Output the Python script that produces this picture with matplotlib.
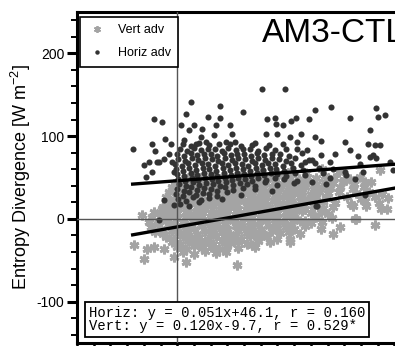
import matplotlib.pyplot as plt
from matplotlib.ticker import MultipleLocator

plt.rcParams['font.family'] = ['Liberation Sans', 'DejaVu Sans']
plt.rcParams['mathtext.fontset'] = 'custom'
plt.rcParams['mathtext.rm'] = 'Liberation Sans'
plt.rcParams['axes.unicode_minus'] = False

# Vertical advection (gray asterisks)
vert_x = [
    150, 175, 205, 232, 260, 290, 300, 349, 364,
    20, 35, 50, 68, 82, 97, 112, 128, 142, 158, 172, 188, 203, 218, 234, 250, 266, 282, 310, 328,
    0, 12, 26, 40, 55, 70, 85, 100, 115, 130, 145, 160, 175, 190, 205, 220, 235, 250, 265, 280, 297, 318, 338,
    -10, 5, 20, 35, 50, 65, 80, 95, 110, 125, 140, 155, 170, 185, 200, 215, 230, 245, 260, 275, 292, 315, 335,
    -15, 0, 15, 30, 45, 60, 75, 90, 105, 120, 135, 150, 165, 180, 195, 210, 225, 240, 255, 270, 290, 322, 345, 368,
    -20, -5, 10, 25, 40, 55, 70, 85, 100, 115, 130, 145, 160, 175, 190, 205, 220, 235, 250, 268, 305, 330, 355, 378,
    -20, -6, 8, 22, 36, 50, 64, 78, 92, 106, 120, 134, 148, 162, 176, 190, 204, 218, 232, 246, 262, 283, 312, 337, 362,
    -25, -10, 5, 20, 35, 50, 65, 80, 95, 110, 125, 140, 155, 170, 185, 200, 215, 230, 245, 262, 280, 315, 340, 367, 376,
    -41, -27, -30, -15, 0, 15, 30, 45, 60, 75, 90, 105, 120, 135, 150, 165, 180, 195, 210, 225, 240, 258, 270,
    -45, -30, -15, 0, 15, 30, 45, 60, 75, 90, 105, 120, 135, 150, 165, 180, 195, 210, 229, 250, 278, 319, 322,
    -50, -35, -20, -5, 10, 25, 40, 55, 70, 85, 100, 115, 130, 145, 160, 175, 190, 205, 220, 240, 260, 355,
    -47, -30, -15, 0, 15, 30, 45, 60, 75, 90, 105, 120, 135, 150, 165, 180, 195, 210, 230, 259, 292,
    -40, -25, -10, 5, 20, 35, 50, 65, 80, 95, 110, 125, 140, 155, 170, 185, 200, 220, 279,
    -20, -5, 10, 25, 40, 55, 70, 85, 100, 115, 130, 145, 162, 180, 202,
    -10, 5, 20, 35, 50, 65, 80, 95, 110, 125, 145, 166, 202,
    -77, -54, -41, -23, 0, 15, 30, 45, 60, 75, 90, 110, 135, 139,
    10, 30, 50, 70, 88,
    -59, -5, 16, 108, -63, -14,
]
vert_y = [
    57, 55, 58, 56, 60, 57, 47, 45, 59,
    49, 52, 50, 48, 51, 49, 52, 50, 48, 51, 49, 52, 50, 48, 51, 49, 52, 50, 48, 51,
    44, 42, 45, 43, 44, 42, 45, 43, 44, 42, 45, 43, 44, 42, 45, 43, 44, 42, 45, 43, 45, 42, 44,
    38, 36, 39, 37, 38, 36, 39, 37, 38, 36, 39, 37, 38, 36, 39, 37, 38, 36, 39, 37, 38, 36, 39,
    32, 30, 33, 31, 32, 30, 33, 31, 32, 30, 33, 31, 32, 30, 33, 31, 32, 30, 33, 31, 33, 31, 33, 30,
    26, 24, 27, 25, 26, 24, 27, 25, 26, 24, 27, 25, 26, 24, 27, 25, 26, 24, 27, 25, 26, 24, 27, 25,
    20, 18, 21, 19, 20, 18, 21, 19, 20, 18, 21, 19, 20, 18, 21, 19, 20, 18, 21, 19, 20, 19, 18, 21, 19,
    14, 12, 15, 13, 14, 12, 15, 13, 14, 12, 15, 13, 14, 12, 15, 13, 14, 12, 15, 13, 14, 15, 15, 12, 12,
    8, 12, 6, 9, 7, 8, 6, 9, 7, 8, 6, 9, 7, 8, 6, 9, 7, 8, 6, 9, 7, 8, 6,
    2, 0, 3, 1, 2, 0, 3, 1, 2, 0, 3, 1, 2, 0, 3, 1, 2, 0, -2, 2, 1, 0, 0,
    -4, -6, -3, -5, -4, -6, -3, -5, -4, -6, -3, -5, -4, -6, -3, -5, -4, -6, -3, -5, -4, -7,
    -10, -12, -9, -11, -10, -12, -9, -11, -10, -12, -9, -11, -10, -12, -9, -11, -10, -12, -9, -12, -10,
    -16, -18, -15, -17, -16, -18, -15, -17, -16, -18, -15, -17, -16, -18, -15, -17, -16, -18, -18,
    -22, -24, -21, -23, -22, -24, -21, -23, -22, -24, -21, -23, -22, -24, -24,
    -28, -30, -27, -29, -28, -30, -27, -29, -28, -30, -27, -28, -28,
    -31, -36, -34, -36, -34, -36, -33, -35, -34, -36, -33, -35, -32, -34,
    -40, -42, -39, -41, -40,
    -48, -46, -52, -56, 5, 15,
]

# Horizontal advection (dark dots)
horiz_x = [
    10, 25, 40, 58, 75, 95, 115, 140, 165, 190,
    5, 18, 30, 42, 55, 68, 80, 92, 105, 118, 130, 145, 160, 175, 195, 215,
    0, 12, 24, 36, 48, 60, 72, 84, 96, 108, 120, 132, 144, 156, 170, 185, 200, 225,
    2, 14, 26, 38, 50, 62, 74, 86, 98, 110, 122, 134, 146, 158, 170, 182, 196, 212, 236,
    -4, 8, 20, 32, 44, 56, 68, 80, 92, 104, 116, 128, 140, 152, 164, 176, 190, 205, 222, 248,
    -2, 10, 22, 34, 46, 58, 70, 82, 94, 106, 118, 130, 142, 154, 166, 178, 192, 208, 226, 255, 280,
    0, 12, 24, 36, 48, 60, 72, 84, 96, 108, 120, 132, 144, 156, 168, 180, 195, 212, 230, 262,
    2, 14, 26, 38, 50, 62, 74, 86, 98, 110, 122, 134, 146, 160, 175, 192, 215, 275,
    4, 16, 28, 40, 52, 64, 76, 88, 100, 112, 126, 140, 158, 180, 210,
    0, 12, 24, 36, 48, 60, 72, 86, 100, 118, 140, 170,
    -3, 10, 22, 34, 46, 58, 72, 90, 115,
    2, 15, 28, 42, 58, 80,
    5, 22, 40,
    -79, -41, -28, 25, 16, 76, 118, 56, 77, 94, -46, -40, -22, -11, -14, -59, -50, -36, -23,
    -9, -5, -45, -56, 7, 22, 31, 45, 70, 99, 43, 67, 13, 34, 52, 88, 103, 135,
    152, 193, 248, 277, 358, 374, 360, 310, 162, 175, 178, 205, 214, 236, 190, 346, 160, 180,
    223, 248, 259, 301, 342, 355, 310, 234, 283, 324, 346, 259, 216, 202, 243, 274, 358, 382,
    229, 301, 333, -32, -23, -32, -5, 250, 252, 243, 268, 319, 337, 328, 364, 387, 304, 351,
]
horiz_y = [
    90, 88, 92, 89, 91, 90, 88, 92, 89, 91,
    84, 82, 86, 83, 85, 84, 82, 86, 83, 85, 84, 82, 86, 83, 85, 84,
    78, 76, 80, 77, 79, 78, 76, 80, 77, 79, 78, 76, 80, 77, 79, 78, 76, 80,
    72, 70, 74, 71, 73, 72, 70, 74, 71, 73, 72, 70, 74, 71, 73, 72, 70, 74, 71,
    66, 64, 68, 65, 67, 66, 64, 68, 65, 67, 66, 64, 68, 65, 67, 66, 64, 68, 65, 67,
    60, 58, 62, 59, 61, 60, 58, 62, 59, 61, 60, 58, 62, 59, 61, 60, 58, 62, 59, 61, 60,
    54, 52, 56, 53, 55, 54, 52, 56, 53, 55, 54, 52, 56, 53, 55, 54, 52, 56, 53, 55,
    48, 46, 50, 47, 49, 48, 46, 50, 47, 49, 48, 46, 50, 47, 49, 48, 46, 50,
    42, 40, 44, 41, 43, 42, 40, 44, 41, 43, 42, 40, 44, 41, 43,
    36, 34, 38, 35, 37, 36, 34, 38, 35, 37, 36, 34,
    30, 28, 32, 29, 31, 30, 28, 32, 29,
    24, 22, 26, 23, 25, 24,
    18, 16, 20,
    85, 121, 117, 141, 127, 136, 129, 123, 122, 114, 91, 82, 97, 90, 79, 65, 69, 69, 72,
    69, 57, 57, 51, 113, 107, 114, 109, 114, 103, 99, 101, 95, 91, 93, 93, 93, 89,
    157, 157, 131, 135, 134, 125, 123, 122, 121, 122, 115, 118, 122, 121, 113, 107, 103, 103,
    103, 99, 94, 93, 91, 89, 83, 83, 79, 76, 75, 77, 93, 99, 71, 69, 73, 69,
    69, 57, 57, 69, 23, -1, 17, 15, 15, 45, 42, 48, 29, 66, 89, 59, 53, 77,
]

# regression lines printed in the panel
horiz_fit = (0.051, 46.1)
vert_fit = (0.120, -9.7)
fit_x = [-80, 420]

fig = plt.figure(figsize=(3.95, 3.46), dpi=100)
ax = fig.add_axes([77 / 395, 3 / 346, 334 / 395, 331 / 346])

ax.plot(vert_x, vert_y, ls='none', marker=(6, 2, 0), ms=7, mew=2.0,
        color='#a4a4a4', label='Vert adv', zorder=2)
ax.plot(horiz_x, horiz_y, ls='none', marker='o', ms=4.4, mew=0,
        color='#333333', label='Horiz adv', zorder=3)

ax.plot(fit_x, [horiz_fit[0] * x + horiz_fit[1] for x in fit_x], color='black', lw=2.4, zorder=4)
ax.plot(fit_x, [vert_fit[0] * x + vert_fit[1] for x in fit_x], color='black', lw=2.4, zorder=4)

ax.axhline(0, color='#555555', lw=1, zorder=5)
ax.axvline(0, color='#555555', lw=1, zorder=5)

ax.set_xlim(-180, 420)
ax.set_ylim(-150, 250)
ax.set_yticks([-100, 0, 100, 200])
ax.yaxis.set_minor_locator(MultipleLocator(20))
ax.xaxis.set_major_locator(MultipleLocator(30))
ax.tick_params(axis='x', labelbottom=False, direction='out', length=5, width=1.8)
ax.tick_params(axis='y', which='major', direction='out', length=7, width=2.2, labelsize=10, pad=2)
ax.tick_params(axis='y', which='minor', direction='out', length=4, width=1.4)
for s in ax.spines.values():
    s.set_linewidth(2.2)

ax.set_ylabel('Entropy Divergence [W m$^{-2}$]', fontsize=13, labelpad=3)

leg = ax.legend(loc='upper left', bbox_to_anchor=(0.009, 0.985), borderaxespad=0,
                fontsize=9, fancybox=False, edgecolor='black', framealpha=1,
                handletextpad=0.9, borderpad=0.6, labelspacing=0.85, handlelength=1.5)
leg.get_frame().set_linewidth(1.2)
leg.legend_handles[0].set_markersize(5)
leg.legend_handles[0].set_markeredgewidth(1.3)
leg.legend_handles[1].set_markersize(3.2)

ax.text(0.554, 0.982, 'AM3-CTL', transform=ax.transAxes, fontsize=24,
        ha='left', va='top')

ax.text(0.035, 0.03, 'Horiz: y = 0.051x+46.1, r = 0.160\nVert: y = 0.120x-9.7, r = 0.529*',
        transform=ax.transAxes, family=['Liberation Mono', 'DejaVu Sans Mono'], fontsize=10,
        va='bottom', ha='left', linespacing=0.95, zorder=10,
        bbox=dict(boxstyle='square,pad=0.25', fc='white', ec='black', lw=1.3))

fig.savefig('out.png', dpi=100)
